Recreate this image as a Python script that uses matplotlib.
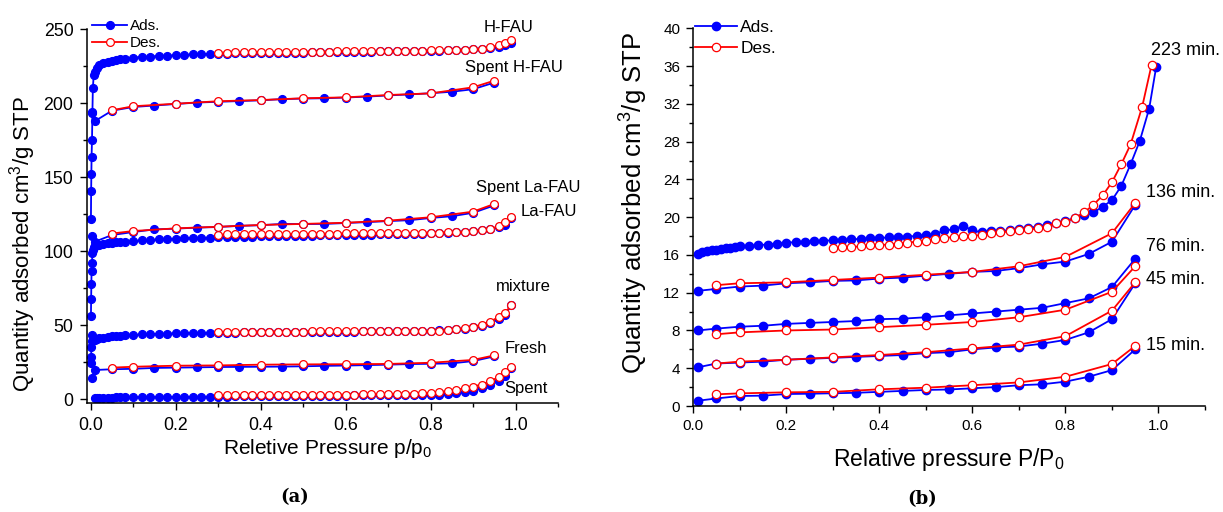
import matplotlib.pyplot as plt
from matplotlib.ticker import MultipleLocator

plt.rcParams['font.family'] = ['Liberation Sans', 'DejaVu Sans']
plt.rcParams['mathtext.fontset'] = 'custom'
plt.rcParams['mathtext.rm'] = 'Liberation Sans'

# ---------------- panel (a): relative pressure grids ----------------
P_LOW = [0.01, 0.015, 0.02, 0.03, 0.04, 0.05, 0.06, 0.07, 0.08, 0.10, 0.12, 0.14,
         0.16, 0.18, 0.20, 0.22, 0.24, 0.26, 0.28]
P_HIGH = [0.30, 0.32, 0.34, 0.36, 0.38, 0.40, 0.42, 0.44, 0.46, 0.48, 0.50, 0.52,
          0.54, 0.56, 0.58, 0.60, 0.62, 0.64, 0.66, 0.68, 0.70, 0.72, 0.74, 0.76,
          0.78, 0.80, 0.82, 0.84, 0.86, 0.88, 0.90, 0.92, 0.94, 0.96, 0.975, 0.99]
P_SPARSE_ADS = [0.003, 0.01, 0.05, 0.10, 0.15, 0.20, 0.25, 0.30, 0.35, 0.40, 0.45,
                0.50, 0.55, 0.60, 0.65, 0.70, 0.75, 0.80, 0.85, 0.90, 0.95]
P_SPARSE_DES = [0.05, 0.10, 0.20, 0.30, 0.40, 0.50, 0.60, 0.70, 0.80, 0.90, 0.95]

# H-FAU
hfau_zero_p = [0.0005, 0.001, 0.0015, 0.002, 0.003, 0.004, 0.005, 0.007]
hfau_zero_q = [122, 141, 152, 164, 175, 194, 210, 219]
hfau_ads_low = [221.4, 224.0, 225.6, 227.0, 228.0, 228.8, 229.3, 229.8, 230.2, 230.9,
                231.3, 231.6, 232.0, 232.2, 232.5, 232.7, 233.0, 233.2, 233.4]
hfau_ads_high = [233.5, 233.6, 233.7, 233.8, 233.9, 234.0, 234.1, 234.1, 234.2, 234.3,
                 234.3, 234.4, 234.5, 234.5, 234.6, 234.7, 234.7, 234.8, 234.9, 235.0,
                 235.0, 235.1, 235.2, 235.3, 235.4, 235.5, 235.6, 235.7, 235.9, 236.1,
                 236.4, 236.8, 237.3, 238.2, 239.2, 240.5]
hfau_des = [234.2, 234.3, 234.4, 234.4, 234.5, 234.5, 234.6, 234.6, 234.7, 234.7,
            234.8, 234.8, 234.9, 234.9, 235.0, 235.0, 235.1, 235.1, 235.2, 235.2,
            235.3, 235.4, 235.4, 235.5, 235.6, 235.7, 235.8, 235.9, 236.1, 236.3,
            236.6, 237.0, 237.8, 239.2, 240.8, 242.6]

# Spent H-FAU
shfau_ads = [193.5, 188.0, 195.0, 197.5, 198.5, 199.5, 200.5, 201.0, 201.5, 202.0, 202.8,
             203.2, 203.4, 203.9, 204.5, 205.3, 206.0, 206.8, 207.8, 209.5, 214.0]
shfau_des = [195.3, 198.0, 199.7, 201.4, 202.2, 203.4, 204.0, 205.6, 206.7, 210.8, 215.3]

# La-FAU
lafau_zero_p = [0.0005, 0.001, 0.0015, 0.002, 0.003, 0.004, 0.006, 0.008]
lafau_zero_q = [56, 68, 78, 87, 92, 99, 101, 103]
lafau_ads_low = [103.5, 104.0, 104.4, 104.8, 105.3, 105.7, 106.0, 106.3, 106.6, 107.0,
                 107.4, 107.7, 108.0, 108.3, 108.5, 108.7, 108.9, 109.1, 109.3]
lafau_ads_high = [109.5, 109.6, 109.7, 109.8, 109.9, 110.0, 110.1, 110.2, 110.3, 110.4,
                  110.5, 110.6, 110.7, 110.8, 110.9, 111.0, 111.1, 111.2, 111.3, 111.4,
                  111.5, 111.6, 111.7, 111.8, 112.0, 112.1, 112.3, 112.5, 112.8, 113.1,
                  113.6, 114.3, 115.0, 116.4, 118.0, 122.7]
lafau_des = [111.3, 111.35, 111.4, 111.45, 111.5, 111.55, 111.6, 111.65, 111.7, 111.75,
             111.8, 111.85, 111.9, 111.95, 112.0, 112.05, 112.1, 112.15, 112.2, 112.25,
             112.3, 112.35, 112.4, 112.45, 112.5, 112.6, 112.7, 112.8, 113.0, 113.3,
             113.7, 114.2, 115.0, 117.0, 119.5, 123.0]

# Spent La-FAU
slafau_ads = [110.0, 106.5, 111.0, 113.0, 114.8, 115.3, 116.0, 116.4, 117.2, 117.6, 118.5,
              118.4, 118.5, 119.1, 119.7, 120.4, 121.0, 122.5, 123.7, 126.0, 131.0]
slafau_des = [112.0, 113.7, 115.5, 116.6, 117.8, 118.5, 119.3, 120.7, 123.0, 126.8, 132.0]

# mixture
mix_zero_p = [0.0005, 0.001, 0.0015, 0.002, 0.004]
mix_zero_q = [24.3, 28.8, 35.5, 43.4, 39.5]
mix_ads_low = [40.0, 40.6, 41.1, 41.7, 42.1, 42.5, 42.8, 43.0, 43.2, 43.5,
               43.8, 44.0, 44.2, 44.4, 44.6, 44.7, 44.8, 44.9, 45.0]
mix_ads_high = [45.0, 45.05, 45.1, 45.15, 45.2, 45.25, 45.3, 45.35, 45.4, 45.45,
                45.5, 45.55, 45.6, 45.65, 45.7, 45.75, 45.8, 45.85, 45.9, 45.95,
                46.0, 46.05, 46.1, 46.2, 46.25, 46.3, 46.5, 46.8, 47.2, 47.8,
                48.6, 49.8, 51.5, 54.0, 57.0, 63.5]
mix_des = [45.6, 45.62, 45.64, 45.66, 45.68, 45.7, 45.72, 45.74, 45.76, 45.78,
           45.8, 45.82, 45.84, 45.86, 45.88, 45.9, 45.92, 45.94, 45.96, 45.98,
           46.0, 46.05, 46.1, 46.15, 46.2, 46.25, 46.4, 46.7, 47.2, 48.0,
           49.0, 50.4, 52.5, 55.5, 58.5, 63.5]

# Fresh
fresh_ads = [14.2, 19.8, 20.3, 20.6, 21.2, 21.4, 21.6, 21.8, 21.9, 22.0, 22.1,
             22.3, 22.6, 22.8, 23.1, 23.4, 23.8, 24.0, 24.3, 25.8, 29.0]
fresh_des = [21.4, 22.0, 22.7, 22.9, 23.4, 23.6, 23.7, 23.9, 24.7, 26.6, 29.7]

# Spent
spent_ads_low = [0.6, 0.8, 0.9, 1.0, 1.1, 1.2, 1.25, 1.3, 1.35, 1.4,
                 1.45, 1.5, 1.55, 1.6, 1.65, 1.7, 1.72, 1.75, 1.78]
spent_ads_high = [1.8, 1.85, 1.9, 1.95, 2.0, 2.05, 2.1, 2.15, 2.2, 2.25,
                  2.3, 2.35, 2.4, 2.45, 2.5, 2.55, 2.6, 2.65, 2.7, 2.75,
                  2.8, 2.85, 2.9, 2.95, 3.0, 3.05, 3.2, 3.6, 4.1, 4.9,
                  5.9, 7.4, 9.6, 12.3, 15.5, 21.0]
spent_des = [2.7, 2.72, 2.74, 2.76, 2.78, 2.8, 2.82, 2.84, 2.86, 2.88,
             2.9, 2.95, 3.0, 3.05, 3.1, 3.15, 3.2, 3.3, 3.4, 3.5,
             3.6, 3.7, 3.8, 3.9, 4.1, 4.4, 5.0, 5.6, 6.4, 7.4,
             8.6, 10.0, 12.2, 15.0, 18.2, 22.0]

# ---------------- panel (b): relative pressure grids ----------------
R_DENSE_ADS = [0.01, 0.02, 0.03, 0.04, 0.05, 0.06, 0.07, 0.08, 0.09, 0.10,
               0.12, 0.14, 0.16, 0.18, 0.20, 0.22, 0.24, 0.26, 0.28, 0.30,
               0.32, 0.34, 0.36, 0.38, 0.40, 0.42, 0.44, 0.46, 0.48, 0.50,
               0.52, 0.54, 0.56, 0.58, 0.60, 0.62, 0.64, 0.66, 0.68, 0.70,
               0.72, 0.74, 0.76, 0.78, 0.80, 0.82, 0.84, 0.86, 0.88, 0.90,
               0.92, 0.94, 0.96, 0.98, 0.995]
R_DENSE_DES = [0.30, 0.32, 0.34, 0.36, 0.38, 0.40, 0.42, 0.44, 0.46, 0.48,
               0.50, 0.52, 0.54, 0.56, 0.58, 0.60, 0.62, 0.64, 0.66, 0.68,
               0.70, 0.72, 0.74, 0.76, 0.78, 0.80, 0.82, 0.84, 0.86, 0.88,
               0.90, 0.92, 0.94, 0.965, 0.985]
R_SPARSE_ADS = [0.01, 0.05, 0.10, 0.15, 0.20, 0.25, 0.30, 0.35, 0.40, 0.45,
                0.50, 0.55, 0.60, 0.65, 0.70, 0.75, 0.80, 0.85, 0.90, 0.95]
R_SPARSE_DES = [0.05, 0.10, 0.20, 0.30, 0.40, 0.50, 0.60, 0.70, 0.80, 0.90, 0.95]

m223_ads = [16.15, 16.3, 16.4, 16.5, 16.55, 16.6, 16.7, 16.75, 16.8, 16.9,
            16.95, 17.05, 17.1, 17.2, 17.3, 17.35, 17.4, 17.45, 17.5, 17.55,
            17.6, 17.65, 17.7, 17.75, 17.8, 17.85, 17.9, 17.95, 18.0, 18.1,
            18.2, 18.6, 18.7, 19.1, 18.6, 18.4, 18.5, 18.55, 18.6, 18.7,
            18.85, 19.0, 19.2, 19.4, 19.6, 19.9, 20.2, 20.5, 21.1, 21.8,
            23.3, 25.6, 28.1, 31.5, 35.9]
m223_des = [16.7, 16.8, 16.85, 16.9, 17.0, 17.05, 17.1, 17.2, 17.3, 17.4,
            17.5, 17.7, 17.8, 17.9, 18.0, 18.05, 18.1, 18.3, 18.4, 18.5,
            18.65, 18.7, 18.8, 19.0, 19.4, 19.5, 19.9, 20.5, 21.3, 22.3,
            23.7, 25.6, 27.7, 31.7, 36.1]
m136_ads = [12.2, 12.4, 12.65, 12.75, 13.0, 13.1, 13.25, 13.3, 13.5, 13.6,
            13.8, 14.0, 14.2, 14.3, 14.6, 15.0, 15.3, 16.1, 17.4, 21.3]
m136_des = [12.8, 13.0, 13.1, 13.35, 13.6, 13.9, 14.2, 14.8, 15.8, 18.3, 21.5]
m76_ads = [8.0, 8.2, 8.4, 8.5, 8.7, 8.8, 8.9, 9.0, 9.2, 9.25,
           9.4, 9.6, 9.8, 10.0, 10.2, 10.4, 10.9, 11.4, 12.6, 15.6]
m76_des = [7.6, 7.8, 8.0, 8.1, 8.35, 8.6, 8.9, 9.4, 10.2, 12.1, 14.8]
m45_ads = [4.1, 4.5, 4.6, 4.7, 4.9, 5.0, 5.1, 5.2, 5.3, 5.4,
           5.6, 5.7, 6.0, 6.2, 6.3, 6.6, 7.0, 7.8, 9.2, 13.0]
m45_des = [4.5, 4.7, 4.9, 5.15, 5.4, 5.7, 6.1, 6.5, 7.4, 10.1, 13.1]
m15_ads = [0.56, 0.8, 1.06, 1.1, 1.27, 1.3, 1.35, 1.4, 1.5, 1.6,
           1.7, 1.75, 1.88, 2.0, 2.2, 2.3, 2.58, 3.1, 3.8, 6.0]
m15_des = [1.24, 1.34, 1.45, 1.5, 1.77, 1.94, 2.2, 2.5, 3.1, 4.45, 6.36]

BLUE = '#0000ff'
RED = '#ff0000'


def draw_pair(ax, ads_p, ads_q, des_p, des_q, ms):
    a, = ax.plot(ads_p, ads_q, '-o', color=BLUE, mfc=BLUE, mec=BLUE, ms=ms, lw=1.3,
                 label='Ads.', clip_on=False)
    d, = ax.plot(des_p, des_q, '-o', color=RED, mfc='white', mec=RED, ms=ms, mew=0.9,
                 lw=1.3, label='Des.', clip_on=False)
    return a, d


def style_axes(ax, tick_size, pad):
    for side in ('top', 'right'):
        ax.spines[side].set_visible(False)
    for side in ('left', 'bottom'):
        ax.spines[side].set_linewidth(1.1)
    ax.tick_params(which='major', direction='out', length=5, width=1.0,
                   labelsize=tick_size, pad=pad)
    ax.tick_params(which='minor', direction='out', length=3, width=1.0)
    ax.xaxis.set_major_locator(MultipleLocator(0.2))
    ax.xaxis.set_minor_locator(MultipleLocator(0.1))
    ax.xaxis.set_major_formatter(plt.FuncFormatter(lambda v, _: f"{v:.1f}"))


fig = plt.figure(figsize=(12.23, 5.12), dpi=100)

# ---------------- panel (a) ----------------
ax1 = fig.add_axes([0.0714, 0.2123, 0.3849, 0.7305])
h_ads, h_des = draw_pair(ax1, hfau_zero_p + P_LOW + P_HIGH, hfau_zero_q + hfau_ads_low + hfau_ads_high,
                         P_HIGH, hfau_des, 5.6)
draw_pair(ax1, P_SPARSE_ADS, shfau_ads, P_SPARSE_DES, shfau_des, 5.6)
draw_pair(ax1, lafau_zero_p + P_LOW + P_HIGH, lafau_zero_q + lafau_ads_low + lafau_ads_high,
          P_HIGH, lafau_des, 5.6)
draw_pair(ax1, P_SPARSE_ADS, slafau_ads, P_SPARSE_DES, slafau_des, 5.6)
draw_pair(ax1, mix_zero_p + P_LOW + P_HIGH, mix_zero_q + mix_ads_low + mix_ads_high,
          P_HIGH, mix_des, 5.6)
draw_pair(ax1, P_SPARSE_ADS, fresh_ads, P_SPARSE_DES, fresh_des, 5.6)
draw_pair(ax1, P_LOW + P_HIGH, spent_ads_low + spent_ads_high, P_HIGH, spent_des, 5.6)

ax1.set_xlim(-0.008, 1.1)
ax1.set_ylim(-2.7, 250)
style_axes(ax1, 12.8, 5)
ax1.yaxis.set_major_locator(MultipleLocator(50))
ax1.yaxis.set_minor_locator(MultipleLocator(25))

for txt, x, y in [('H-FAU', 0.925, 251.5), ('Spent H-FAU', 0.882, 224), ('Spent La-FAU', 0.906, 143),
                  ('La-FAU', 1.012, 126.6), ('mixture', 0.953, 76), ('Fresh', 0.974, 34),
                  ('Spent', 0.974, 7.6)]:
    ax1.text(x, y, txt, fontsize=12, ha='left', va='center')

ax1.set_ylabel('Quantity adsorbed cm$^\\mathregular{3}$/g STP', fontsize=16)
ax1.yaxis.set_label_coords(-0.105, 0.425)
ax1.set_xlabel('Reletive Pressure p/p$_\\mathregular{0}$', fontsize=15)
ax1.xaxis.set_label_coords(0.51, -0.09)
ax1.legend([h_ads, h_des], ['Ads.', 'Des.'], loc='upper left', bbox_to_anchor=(0.01, 1.027),
           frameon=False, fontsize=11, handlelength=2.3, handletextpad=0.2,
           labelspacing=0.2, borderaxespad=0, borderpad=0, numpoints=1)

# ---------------- panel (b) ----------------
ax2 = fig.add_axes([0.5664, 0.207, 0.4189, 0.7377])
r_ads, r_des = draw_pair(ax2, R_DENSE_ADS, m223_ads, R_DENSE_DES, m223_des, 6)
draw_pair(ax2, R_SPARSE_ADS, m136_ads, R_SPARSE_DES, m136_des, 6)
draw_pair(ax2, R_SPARSE_ADS, m76_ads, R_SPARSE_DES, m76_des, 6)
draw_pair(ax2, R_SPARSE_ADS, m45_ads, R_SPARSE_DES, m45_des, 6)
draw_pair(ax2, R_SPARSE_ADS, m15_ads, R_SPARSE_DES, m15_des, 6)

ax2.set_xlim(-0.001, 1.1)
ax2.set_ylim(0, 40)
style_axes(ax2, 11, 4)
ax2.yaxis.set_major_locator(MultipleLocator(4))
ax2.yaxis.set_minor_locator(MultipleLocator(2))

for txt, x, y in [('223 min.', 0.983, 37.6), ('136 min.', 0.974, 22.6), ('76 min.', 0.974, 16.9),
                  ('45 min.', 0.974, 13.4), ('15 min.', 0.974, 6.4)]:
    ax2.text(x, y, txt, fontsize=13, ha='left', va='center')

ax2.set_ylabel('Quantity adsorbed cm$^\\mathregular{3}$/g STP', fontsize=18.5)
ax2.yaxis.set_label_coords(-0.085, 0.537)
ax2.set_xlabel('Relative pressure P/P$_\\mathregular{0}$', fontsize=16.5)
ax2.xaxis.set_label_coords(0.5, -0.105)
ax2.legend([r_ads, r_des], ['Ads.', 'Des.'], loc='upper left', bbox_to_anchor=(0.005, 1.022),
           frameon=False, fontsize=12.5, handlelength=2.4, handletextpad=0.2,
           labelspacing=0.35, borderaxespad=0, borderpad=0, numpoints=1)

fig.text(295 / 1223, 1 - 497 / 512, '(a)', fontsize=13, fontweight='bold', family='DejaVu Serif',
         ha='center', va='center')
fig.text(922 / 1223, 1 - 499 / 512, '(b)', fontsize=13, fontweight='bold', family='DejaVu Serif',
         ha='center', va='center')

fig.savefig('out.png', dpi=100)
